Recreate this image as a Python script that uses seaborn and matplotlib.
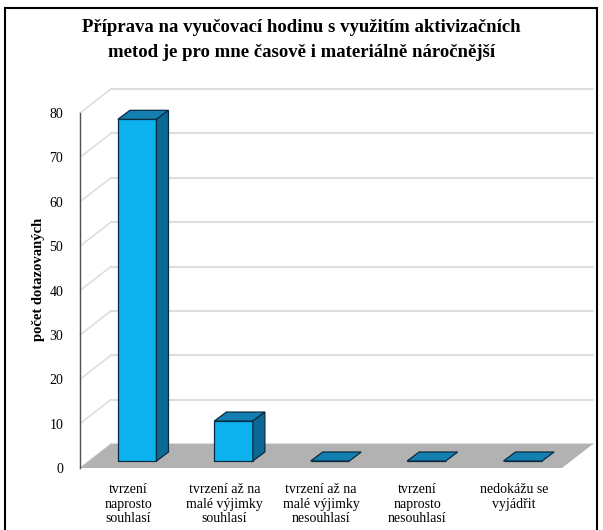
import matplotlib
matplotlib.use("Agg")
import pandas as pd
import matplotlib.pyplot as plt
import seaborn as sns
from matplotlib.patches import Polygon, Rectangle

categories = [
    "tvrzení\nnaprosto\nsouhlasí",
    "tvrzení až na\nmalé výjimky\nsouhlasí",
    "tvrzení až na\nmalé výjimky\nnesouhlasí",
    "tvrzení\nnaprosto\nnesouhlasí",
    "nedokážu se\nvyjádřit",
]
counts = [77, 9, 0, 0, 0]
y_ticks = list(range(0, 90, 10))
title = ("Příprava na vyučovací hodinu s využitím aktivizačních\n"
         "metod je pro mne časově i materiálně náročnější")
y_label = "počet dotazovaných"

front_col = "#0BB2EE"
top_col = "#1480B2"
side_col = "#0A6A94"
edge_col = "#0B2A40"
floor_col = "#B2B2B2"
grid_col = "#DEDEDE"

sns.set_theme(style="white")
plt.rcParams["font.family"] = ["Liberation Serif", "DejaVu Serif"]

W, H = 603, 530
fig = plt.figure(figsize=(W / 100, H / 100), dpi=100)
ax = fig.add_axes([80 / W, (H - 468) / H, 482 / W, 355 / H])
ax.set_xlim(-0.5, 4.5)
ax.set_ylim(0, 80)

# pixel -> data scale (front plane)
sx = 5 / 482
sy = 80 / 355
fdx, fdy = 31 * sx, 24 * sy      # floor / wall depth
bx0, by0 = 9 * sx, 7 * sy        # bar front face offset
bdx, bdy = 12 * sx, 9 * sy       # bar depth

# back wall and left wall gridlines
for t in y_ticks:
    ax.plot([-0.5 + fdx, 4.5 + fdx], [t + fdy, t + fdy], color=grid_col,
            lw=1.5, zorder=0, clip_on=False)
    ax.plot([-0.5, -0.5 + fdx], [t, t + fdy], color=grid_col,
            lw=1.2, zorder=0, clip_on=False)

# floor
ax.add_patch(Polygon([(-0.5, 0), (4.5, 0), (4.5 + fdx, fdy), (-0.5 + fdx, fdy)],
                     closed=True, fc=floor_col, ec="none", zorder=1, clip_on=False))
n_fixed = len(ax.patches)

df = pd.DataFrame({"kategorie": categories, "pocet": counts})
sns.barplot(data=df, x="kategorie", y="pocet", width=0.4, color=front_col,
            saturation=1, edgecolor=edge_col, linewidth=0.9, ax=ax, zorder=3)

for p in list(ax.patches)[n_fixed:]:
    p.set_x(p.get_x() + bx0)
    p.set_y(by0)
    p.set_clip_on(False)
    x0 = p.get_x()
    x1 = x0 + p.get_width()
    y0 = p.get_y()
    y1 = y0 + p.get_height()
    top = Polygon([(x0, y1), (x1, y1), (x1 + bdx, y1 + bdy), (x0 + bdx, y1 + bdy)],
                  closed=True, fc=top_col, ec=edge_col, lw=0.9, zorder=4, clip_on=False)
    ax.add_patch(top)
    if y1 > y0:
        side = Polygon([(x1, y0), (x1 + bdx, y0 + bdy), (x1 + bdx, y1 + bdy), (x1, y1)],
                       closed=True, fc=side_col, ec=edge_col, lw=0.9, zorder=4, clip_on=False)
        ax.add_patch(side)

for s in ["top", "right", "bottom"]:
    ax.spines[s].set_visible(False)
ax.spines["left"].set_color("#505050")
ax.spines["left"].set_linewidth(1)
ax.spines["left"].set_zorder(5)

ax.set_yticks(y_ticks)
ax.tick_params(axis="y", length=0, pad=12, labelsize=10, labelcolor="black")
ax.tick_params(axis="x", length=0, pad=11, labelsize=10, labelcolor="black")
for lab in ax.get_xticklabels():
    lab.set_linespacing(1.15)
ax.set_xlabel("")
ax.set_ylabel(y_label, fontsize=10.5, fontweight="bold", color="black")
ax.yaxis.set_label_coords(-35 / 482, (468 - 279) / 355)

fig.text(0.5, 1 - 40 / H, title, ha="center", va="center", fontsize=13.5,
         fontweight="bold", linespacing=1.6, color="black")

fig.add_artist(Rectangle((5 / W, -0.05), 592 / W, (H - 8) / H + 0.05,
                         transform=fig.transFigure, fill=False, ec="black", lw=1.5))

fig.savefig("out.png", dpi=100)
